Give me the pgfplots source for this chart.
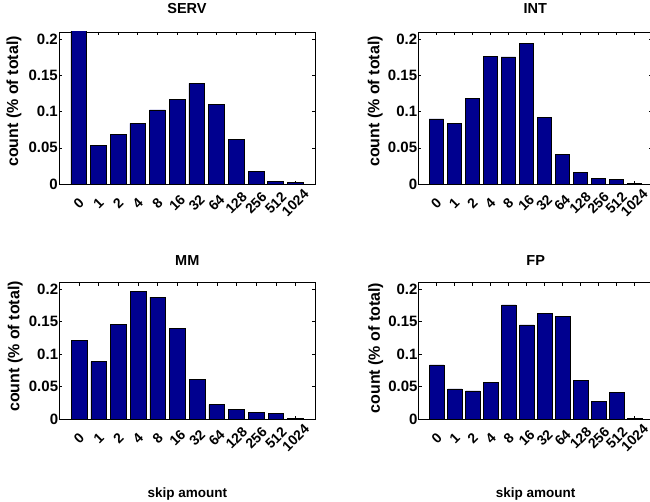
\documentclass[border=0pt]{standalone}
\usepackage{pgfplots}
\pgfplotsset{compat=1.18}
\usepackage{fontspec}
\setmainfont{Liberation Sans}
\definecolor{barblue}{RGB}{0,0,143}

\pgfplotsset{
  skipstyle/.style={
    scale only axis,
    anchor=south west,
    ybar, bar width=0.8,
    ymin=0, ymax=0.21,
    xmin=-1, xmax=12,
    xtick={0,...,11},
    xticklabels={0,1,2,4,8,16,32,64,128,256,512,1024},
    ytick={0,0.05,0.1,0.15,0.2},
    yticklabels={0,0.05,0.1,0.15,0.2},
    tick align=inside, tick pos=both,
    major tick length=3pt,
    axis line style={line width=0.9pt},
    every tick/.style={black, line width=0.6pt},
    xticklabel style={font=\bfseries\fontsize{14}{16}\selectfont, yshift=-19pt, rotate=45, anchor=center},
    yticklabel style={font=\bfseries\fontsize{15}{17}\selectfont, inner xsep=1pt},
    title style={font=\bfseries\fontsize{14.5}{17}\selectfont, anchor=center},
    ylabel style={font=\bfseries\fontsize{16}{18}\selectfont, anchor=center},
    xlabel style={font=\bfseries\fontsize{13.5}{16}\selectfont, anchor=center},
    ylabel={count (\% of total)},
  },
  barstyle/.style={fill=barblue, draw=black, line width=0.6pt},
}

\begin{document}
\begin{tikzpicture}
\useasboundingbox (0,0) rectangle (650pt,502pt);

% SERV
\begin{axis}[skipstyle, at={(59pt,318pt)}, width=256pt, height=152pt,
  title={SERV}, title style={at={([yshift=17pt]axis description cs:0.5,1)}},
  ylabel style={at={([xshift=-45pt]axis description cs:0,0.543)}}]
\addplot[barstyle] coordinates {(0,0.23) (1,0.0536) (2,0.0688) (3,0.0836) (4,0.1025) (5,0.1173) (6,0.139) (7,0.110) (8,0.0619) (9,0.0171) (10,0.0032) (11,0.0018)};
\end{axis}

% INT
\begin{axis}[skipstyle, at={(418.3pt,318pt)}, width=234pt, height=152pt,
  title={INT}, title style={at={([yshift=17pt]axis description cs:0.5,1)}},
  ylabel style={at={([xshift=-43pt]axis description cs:0,0.543)}}]
\addplot[barstyle] coordinates {(0,0.090) (1,0.0836) (2,0.118) (3,0.1764) (4,0.1755) (5,0.194) (6,0.0919) (7,0.0406) (8,0.0157) (9,0.0074) (10,0.006) (11,0.0005)};
\end{axis}

% MM
\begin{axis}[skipstyle, at={(59.3pt,83pt)}, width=256pt, height=136.3pt,
  title={MM}, title style={at={([yshift=16pt]axis description cs:0.5,1)}},
  ylabel style={at={([xshift=-44pt]axis description cs:0,0.532)}},
  xlabel={skip amount}, xlabel style={at={([yshift=-75pt]axis description cs:0.5,0)}}]
\addplot[barstyle] coordinates {(0,0.1213) (1,0.0884) (2,0.146) (3,0.1964) (4,0.1877) (5,0.1393) (6,0.0612) (7,0.0221) (8,0.0154) (9,0.0103) (10,0.0087) (11,0.001)};
\end{axis}

% FP
\begin{axis}[skipstyle, at={(418.7pt,83pt)}, width=234pt, height=136.3pt,
  title={FP}, title style={at={([yshift=16pt]axis description cs:0.5,1)}},
  ylabel style={at={([xshift=-43pt]axis description cs:0,0.52)}},
  xlabel={skip amount}, xlabel style={at={([yshift=-75pt]axis description cs:0.5,0)}}]
\addplot[barstyle] coordinates {(0,0.0833) (1,0.0463) (2,0.0432) (3,0.0566) (4,0.1758) (5,0.145) (6,0.163) (7,0.158) (8,0.0591) (9,0.0267) (10,0.0406) (11,0.001)};
\end{axis}
\end{tikzpicture}
\end{document}
